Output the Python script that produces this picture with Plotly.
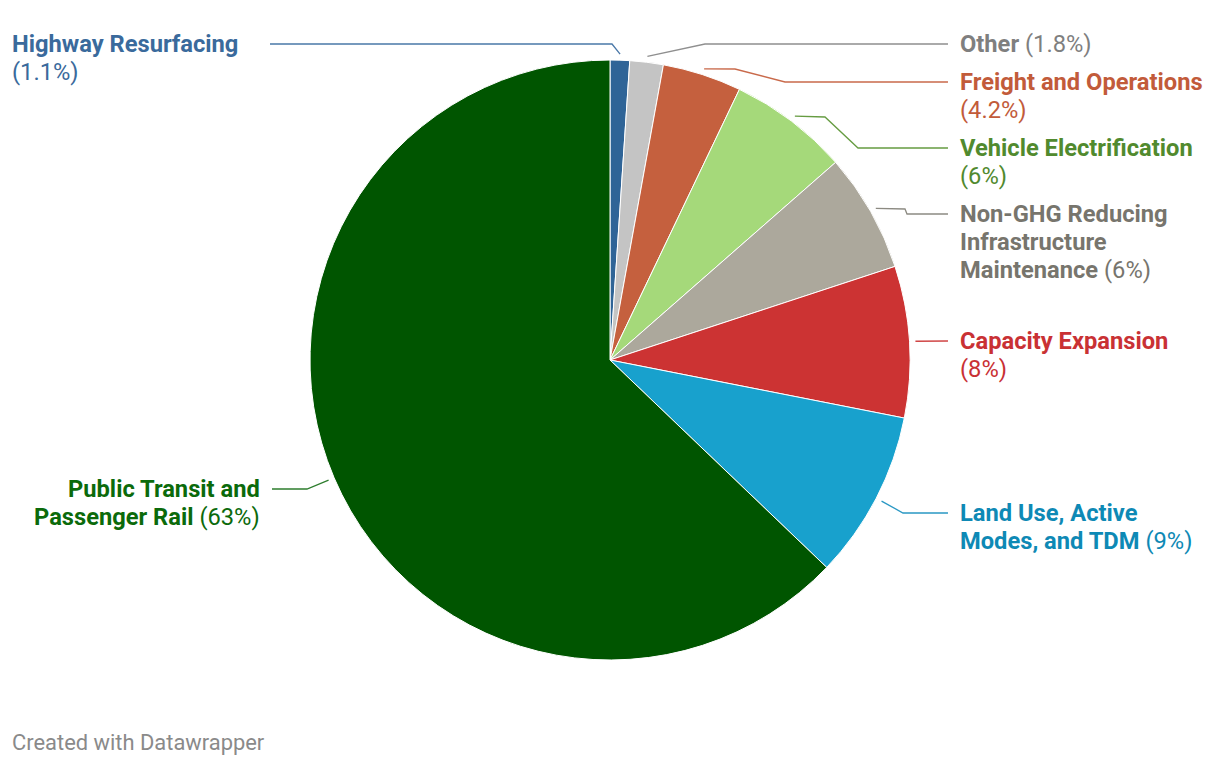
import math
import plotly.graph_objects as go

# ---------------- data ----------------
categories = [
    "Highway Resurfacing", "Other", "Freight and Operations",
    "Vehicle Electrification", "Non-GHG Reducing Infrastructure Maintenance",
    "Capacity Expansion", "Land Use, Active Modes, and TDM",
    "Public Transit and Passenger Rail",
]
shares = [1.05, 1.8, 4.25, 6.45, 6.4, 8.15, 9.05, 62.85]
pct_labels = ["(1.1%)", "(1.8%)", "(4.2%)", "(6%)", "(6%)", "(8%)", "(9%)", "(63%)"]

# ---------------- styling ----------------
W, H = 1220, 766
OFF = 8  # page body margin
CX, CY, R = 610, 360, 300
slice_colors = ["#2f6497", "#c4c4c4", "#c5603e", "#a5d97a",
                "#aca89c", "#cc3333", "#18a1cd", "#005500"]
text_colors = ["#3a6a9c", "#7f7f7f", "#c25b3a", "#518a2e",
               "#77756d", "#c93134", "#0e89b5", "#0b6a0b"]
line_colors = ["#4a78a8", "#8f8f8f", "#c96a4b", "#669c42",
               "#8c8a82", "#d04545", "#2a98c4", "#2e7d2e"]

# label layout: (side, anchor x, list of lines, first line y, knees, line end x)
label_layout = [
    ("left",  10,  ["<b>Highway Resurfacing</b>", "(1.1%)"], 44, [(612, 44)], 270),
    ("right", 958, ["<b>Other</b> (1.8%)"], 44, [(705, 44)], 948),
    ("right", 958, ["<b>Freight and Operations</b>", "(4.2%)"], 82, [(735, 69), (785, 82)], 948),
    ("right", 958, ["<b>Vehicle Electrification</b>", "(6%)"], 148, [(825, 117), (858, 148)], 948),
    ("right", 958, ["<b>Non-GHG Reducing</b>", "<b>Infrastructure</b>", "<b>Maintenance</b> (6%)"], 214,
     [(905, 209), (907, 214)], 948),
    ("right", 958, ["<b>Capacity Expansion</b>", "(8%)"], 341, [], 948),
    ("right", 958, ["<b>Land Use, Active</b>", "<b>Modes, and TDM</b> (9%)"], 513, [(903, 513)], 948),
    ("leftr", 262, ["<b>Public Transit and</b>", "<b>Passenger Rail</b> (63%)"], 489, [(307, 489)], 272),
]
LINE_H = 28
FONT = "Roboto, 'Noto Sans', Arial, sans-serif"
FS = 23.7

def px(x):
    return (x - OFF) / W

def py(y):
    return 1 - (y - OFF) / H

fig = go.Figure()
fig.add_trace(go.Pie(
    labels=categories, values=shares, sort=False, direction="clockwise",
    rotation=0, textinfo="none", hoverinfo="label+percent",
    marker=dict(colors=slice_colors, line=dict(color="white", width=1)),
    domain=dict(x=[px(CX - R), px(CX + R)], y=[py(CY + R), py(CY - R)]),
    showlegend=False,
))

total = sum(shares)
cum = 0.0
annotations = []
shapes = []
for i, v in enumerate(shares):
    mid = (cum + v / 2) / total * 2 * math.pi
    cum += v
    r0 = R + 6
    sx = CX + r0 * math.sin(mid)
    sy = CY - r0 * math.cos(mid)
    side, ax, lines, y0, knees, ex = label_layout[i]
    pts = [(sx, sy)] + knees + [(ex, y0)]
    path = "M " + " L ".join(f"{px(x):.5f},{py(y):.5f}" for x, y in pts)
    shapes.append(dict(type="path", path=path, xref="paper", yref="paper",
                       line=dict(color=line_colors[i], width=1.3)))
    xanchor = "right" if side == "leftr" else "left"
    for k, t in enumerate(lines):
        annotations.append(dict(
            x=px(ax), y=py(y0 + k * LINE_H), xref="paper", yref="paper",
            text=t, showarrow=False, xanchor=xanchor, yanchor="middle",
            align=xanchor, font=dict(family=FONT, size=FS, color=text_colors[i]),
        ))

annotations.append(dict(
    x=px(10), y=py(742), xref="paper", yref="paper", text="Created with Datawrapper",
    showarrow=False, xanchor="left", yanchor="middle",
    font=dict(family=FONT, size=21.9, color="#8a8a8a"),
))

fig.update_layout(
    width=W, height=H, margin=dict(l=0, r=0, t=0, b=0),
    paper_bgcolor="white", plot_bgcolor="white",
    annotations=annotations, shapes=shapes,
)
fig.write_html("out.html")
